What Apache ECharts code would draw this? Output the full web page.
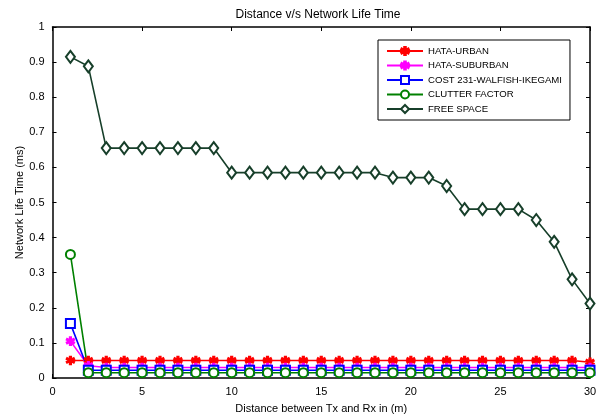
<!DOCTYPE html>
<html>
<head>
<meta charset="utf-8">
<script src="https://cdn.jsdelivr.net/npm/echarts@6/dist/echarts.min.js"></script>
<style>html,body{margin:0;padding:0;background:#fff;}#c{width:596px;height:419px;}</style>
</head>
<body>
<div id="c"></div>
<script>
const distance = [1,2,3,4,5,6,7,8,9,10,11,12,13,14,15,16,17,18,19,20,21,22,23,24,25,26,27,28,29,30];
const hataUrban = [0.05,0.05,0.05,0.05,0.05,0.05,0.05,0.05,0.05,0.05,0.05,0.05,0.05,0.05,0.05,0.05,0.05,0.05,0.05,0.05,0.05,0.05,0.05,0.05,0.05,0.05,0.05,0.05,0.05,0.045];
const hataSuburban = [0.105,0.035,0.03,0.03,0.03,0.03,0.03,0.03,0.03,0.03,0.03,0.03,0.03,0.03,0.03,0.03,0.03,0.03,0.03,0.03,0.03,0.03,0.03,0.03,0.03,0.03,0.03,0.03,0.03,0.03];
const cost231 = [0.155,0.022,0.022,0.022,0.022,0.022,0.022,0.022,0.022,0.022,0.022,0.022,0.022,0.022,0.022,0.022,0.022,0.022,0.022,0.022,0.022,0.022,0.022,0.022,0.022,0.022,0.022,0.022,0.022,0.022];
const clutter = [0.352,0.015,0.015,0.015,0.015,0.015,0.015,0.015,0.015,0.015,0.015,0.015,0.015,0.015,0.015,0.015,0.015,0.015,0.015,0.015,0.015,0.015,0.015,0.015,0.015,0.015,0.015,0.015,0.015,0.015];
const freeSpace = [0.915,0.888,0.655,0.655,0.655,0.655,0.655,0.655,0.655,0.585,0.585,0.585,0.585,0.585,0.585,0.585,0.585,0.585,0.571,0.571,0.571,0.547,0.481,0.481,0.481,0.481,0.450,0.388,0.281,0.212];
const seriesNames = ['HATA-URBAN','HATA-SUBURBAN','COST 231-WALFISH-IKEGAMI','CLUTTER FACTOR','FREE SPACE'];

const pairs = a => distance.map((d,i)=>[d,a[i]]);
const font = 'Liberation Sans, Arial, sans-serif';

const chart = echarts.init(document.getElementById('c'), null, {renderer:'canvas'});
function mk(name, data, color, symbol, size){
  return {
    name, type:'line', data: pairs(data), symbol, symbolSize:size,
    lineStyle:{color, width:1.6}, itemStyle:{color, borderColor:color, borderWidth:1.6},
    animation:false, z:3
  };
}
const starSym = 'path://M4,0 L6,0 L6,3.5 L9.2,1.8 L10,3.4 L7,5 L10,6.6 L9.2,8.2 L6,6.5 L6,10 L4,10 L4,6.5 L0.8,8.2 L0,6.6 L3,5 L0,3.4 L0.8,1.8 L4,3.5 Z';
const axisCommon = {
  axisLine:{show:true, onZero:false, lineStyle:{color:'#000', width:1.5}},
  axisTick:{show:true, inside:true, length:4, lineStyle:{color:'#000'}},
  splitLine:{show:false}
};
const option = {
  animation:false,
  backgroundColor:'#fff',
  title:{text:'Distance v/s Network Life Time', left:313, textAlign:'center', top:4,
    textStyle:{fontFamily:font, fontSize:12, fontWeight:'normal', color:'#000'}},
  grid:{left:52.5, right:6, top:27, bottom:41, containLabel:false, outerBoundsMode:'none'},
  legend:{
    orient:'vertical', left:378, top:40, backgroundColor:'#fff',
    borderColor:'#000', borderWidth:1, padding:[6,8,6,8], itemGap:4.5,
    itemWidth:36, itemHeight:10,
    textStyle:{fontFamily:font, fontSize:9.6, color:'#000'},
    data: seriesNames
  },
  xAxis:[Object.assign({
    type:'value', min:0, max:30, interval:5, position:'bottom',
    axisLabel:{fontFamily:font, fontSize:11, color:'#000', margin:8},
    name:'Distance between Tx and Rx in (m)', nameLocation:'middle', nameGap:25, nameMoveOverlap:false,
    nameTextStyle:{fontFamily:font, fontSize:11, color:'#000'}
  }, axisCommon), Object.assign({
    type:'value', min:0, max:30, interval:5, position:'top',
    axisLabel:{show:false}
  }, axisCommon)],
  yAxis:[Object.assign({
    type:'value', min:0, max:1, interval:0.1, position:'left',
    axisLabel:{fontFamily:font, fontSize:11, color:'#000', margin:8,
      formatter:v=>(Math.round(v*10)/10).toString()},
    name:'Network Life Time (ms)', nameLocation:'middle', nameGap:27, nameMoveOverlap:false,
    nameTextStyle:{fontFamily:font, fontSize:11, color:'#000'}
  }, axisCommon), Object.assign({
    type:'value', min:0, max:1, interval:0.1, position:'right',
    axisLabel:{show:false}
  }, axisCommon)],
  series:[
    mk(seriesNames[0], hataUrban, '#ff0000', starSym, 8),
    mk(seriesNames[1], hataSuburban, '#ff00ff', starSym, 8),
    mk(seriesNames[2], cost231, '#0000ff', 'emptyRect', 9),
    mk(seriesNames[3], clutter, '#008000', 'emptyCircle', 9),
    mk(seriesNames[4], freeSpace, '#173f2a', 'emptyDiamond', [9,12])
  ]
};
chart.setOption(option);
</script>
</body>
</html>
